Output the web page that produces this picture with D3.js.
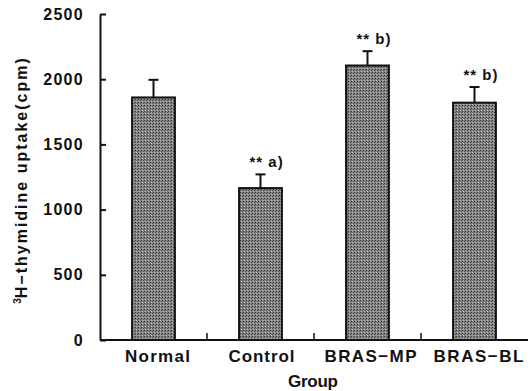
<!DOCTYPE html>
<html>
<head>
<meta charset="utf-8">
<script src="https://cdn.jsdelivr.net/npm/d3@7"></script>
<style>
  body { margin: 0; background: #fff; }
  text { font-family: "Liberation Sans", Arial, sans-serif; font-weight: bold; fill: #111; }
</style>
</head>
<body>
<div id="chart"></div>
<script>
// data
var groups = ["Normal", "Control", "BRAS\u2212MP", "BRAS\u2212BL"];
var means = [1860, 1165, 2105, 1820];
var errs = [135, 105, 110, 120];
var marks = ["", "** a)", "** b)", "** b)"];
var yTicks = [0, 500, 1000, 1500, 2000, 2500];
var labelWidths = [65, 66, 92, 90]; // printed width of each group name

var width = 528, height = 391;
var svg = d3.select("#chart").append("svg")
    .attr("width", width)
    .attr("height", height);

// halftone-ish texture for the bars
var defs = svg.append("defs");
var pat = defs.append("pattern")
    .attr("id", "dots")
    .attr("width", 3).attr("height", 3)
    .attr("patternUnits", "userSpaceOnUse");
pat.append("rect").attr("width", 3).attr("height", 3).attr("fill", "#868686");
pat.append("rect").attr("width", 1).attr("height", 1).attr("fill", "#2e2e2e");
pat.append("rect").attr("x", 2).attr("y", 1).attr("width", 1).attr("height", 1).attr("fill", "#505050");
pat.append("rect").attr("x", 1).attr("y", 2).attr("width", 1).attr("height", 1).attr("fill", "#b8b8b8");

var x = d3.scaleBand().domain(groups).range([100, 528])
    .paddingInner(0.6).paddingOuter(0.3);
var y = d3.scaleLinear().domain([0, 2500]).range([340, 14]);

// bars
svg.selectAll("rect.bar").data(groups).enter()
    .append("rect")
    .attr("class", "bar")
    .attr("x", function(d) { return x(d); })
    .attr("y", function(d, i) { return y(means[i]); })
    .attr("width", x.bandwidth())
    .attr("height", function(d, i) { return y(0) - y(means[i]); })
    .attr("fill", "url(#dots)")
    .attr("stroke", "#111")
    .attr("stroke-width", 2);

// error bars (upper only)
var eb = svg.selectAll("g.err").data(groups).enter().append("g").attr("class", "err");
eb.append("line")
    .attr("x1", function(d) { return x(d) + x.bandwidth() / 2; })
    .attr("x2", function(d) { return x(d) + x.bandwidth() / 2; })
    .attr("y1", function(d, i) { return y(means[i]); })
    .attr("y2", function(d, i) { return y(means[i] + errs[i]); })
    .attr("stroke", "#111").attr("stroke-width", 2);
eb.append("line")
    .attr("x1", function(d) { return x(d) + x.bandwidth() / 2 - 5; })
    .attr("x2", function(d) { return x(d) + x.bandwidth() / 2 + 5; })
    .attr("y1", function(d, i) { return y(means[i] + errs[i]); })
    .attr("y2", function(d, i) { return y(means[i] + errs[i]); })
    .attr("stroke", "#111").attr("stroke-width", 2);

// significance marks
svg.selectAll("text.mark").data(groups).enter()
    .append("text")
    .attr("class", "mark")
    .attr("x", function(d) { return x(d) + x.bandwidth() / 2 - 11; })
    .attr("y", function(d, i) { return y(means[i] + errs[i]) - 7; })
    .style("font-size", "15px")
    .style("letter-spacing", "1px")
    .text(function(d, i) { return marks[i]; });

// y axis
var yAxis = d3.axisLeft(y).tickValues(yTicks).tickFormat(d3.format("d"))
    .tickSizeInner(-6).tickSizeOuter(0).tickPadding(16);
var gy = svg.append("g").attr("transform", "translate(100,0)").call(yAxis);
gy.select(".domain").attr("stroke", "#111").attr("stroke-width", 2);
gy.selectAll(".tick line").attr("stroke", "#111").attr("stroke-width", 2);
gy.selectAll(".tick text")
    .style("font-family", "'Liberation Sans', Arial, sans-serif")
    .style("font-weight", "bold").style("font-size", "16px").attr("fill", "#111")
    .style("letter-spacing", "1.3px");

// x axis
var xAxis = d3.axisBottom(x).tickSize(0).tickPadding(8);
var gx = svg.append("g").attr("transform", "translate(0,340)").call(xAxis);
gx.select(".domain").attr("stroke", "#111").attr("stroke-width", 2)
    .attr("d", "M100,0H528");
gx.selectAll(".tick text")
    .style("font-family", "'Liberation Sans', Arial, sans-serif")
    .style("font-weight", "bold").style("font-size", "17px").attr("fill", "#111")
    .attr("dy", "0.85em")
    .attr("x", function(d, i) { return [4, 1, 3, 4][i]; })
    .attr("textLength", function(d, i) { return labelWidths[i]; })
    .attr("lengthAdjust", "spacing");

// small dividers between groups
svg.selectAll("line.div").data(groups.slice(1)).enter()
    .append("line")
    .attr("x1", function(d) { return x(d) - x.step() * x.paddingInner() / 2; })
    .attr("x2", function(d) { return x(d) - x.step() * x.paddingInner() / 2; })
    .attr("y1", 340).attr("y2", 333)
    .attr("stroke", "#111").attr("stroke-width", 1.5);

// axis titles
svg.append("text")
    .attr("x", 313).attr("y", 387)
    .attr("text-anchor", "middle")
    .style("font-size", "17px")
    .attr("textLength", 50).attr("lengthAdjust", "spacing")
    .text("Group");

var yl = svg.append("text")
    .attr("transform", "translate(27,180) rotate(-90)")
    .attr("text-anchor", "middle")
    .style("font-size", "16px");
yl.append("tspan").attr("dy", "-6").style("font-size", "10px").text("3");
yl.append("tspan").attr("dy", "6").style("letter-spacing", "2px")
    .text("H\u2212thymidine uptake(cpm)");
</script>
</body>
</html>
